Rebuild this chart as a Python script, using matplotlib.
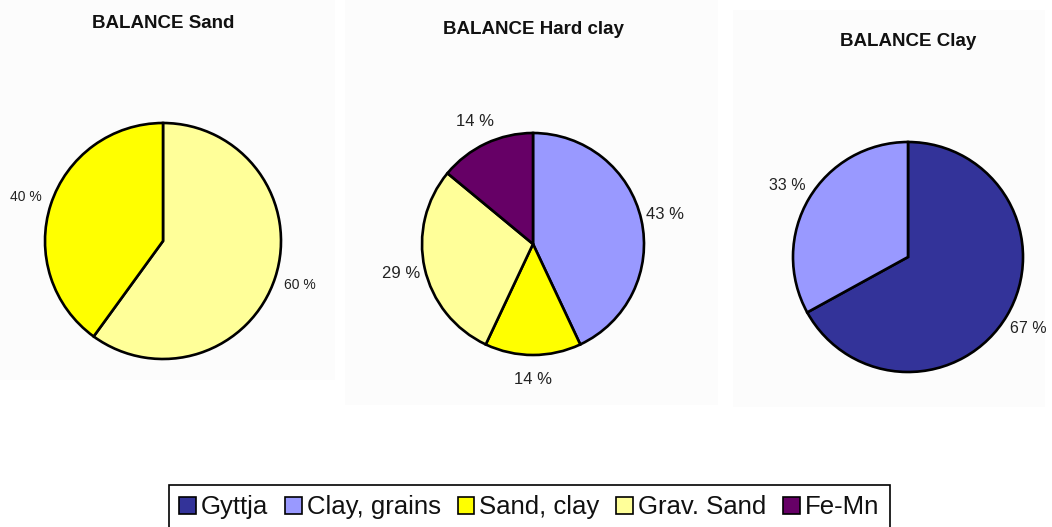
import matplotlib
matplotlib.use("Agg")
import matplotlib.pyplot as plt
from matplotlib.patches import Patch, Rectangle

plt.rcParams['font.family'] = ['Liberation Sans', 'DejaVu Sans']

# legend categories and colours
categories = ['Gyttja', 'Clay, grains', 'Sand, clay', 'Grav. Sand', 'Fe-Mn']
colors = {'Gyttja': '#333399', 'Clay, grains': '#9999ff', 'Sand, clay': '#ffff00',
          'Grav. Sand': '#ffff99', 'Fe-Mn': '#660066'}

# pie data (clockwise from 12 o'clock)
sand_labels = ['Grav. Sand', 'Sand, clay']
sand_values = [60, 40]
hardclay_labels = ['Clay, grains', 'Sand, clay', 'Grav. Sand', 'Fe-Mn']
hardclay_values = [43, 14, 29, 14]
clay_labels = ['Gyttja', 'Clay, grains']
clay_values = [67, 33]

W, H = 1052, 527
fig = plt.figure(figsize=(W / 100, H / 100), dpi=100)

# faint panel backgrounds (pixel boxes: x0, y0, x1, y1)
for x0, y0, x1, y1 in [(0, 0, 335, 380), (345, 0, 718, 405), (733, 10, 1045, 407)]:
    fig.patches.append(Rectangle((x0 / W, 1 - y1 / H), (x1 - x0) / W, (y1 - y0) / H,
                                 transform=fig.transFigure, facecolor='#fcfcfc',
                                 edgecolor='none', zorder=-1))


def draw_pie(title, labels, values, cx, cy, r, ty, fs):
    s = 3 * r
    ax = fig.add_axes([(cx - s / 2) / W, 1 - (cy + s / 2) / H, s / W, s / H])
    ax.pie(values, colors=[colors[l] for l in labels], startangle=90, counterclock=False,
           autopct=lambda p: f'{p:.0f} %', pctdistance=1.22,
           wedgeprops=dict(edgecolor='black', linewidth=1.9),
           textprops=dict(fontsize=fs, color='#222222'))
    ax.set_xlim(-1.5, 1.5)
    ax.set_ylim(-1.5, 1.5)
    ax.axis('off')
    fig.text(cx / W, 1 - ty / H, title, ha='center', va='center',
             fontsize=13.5, fontweight='bold', color='#111111')


draw_pie('BALANCE Sand', sand_labels, sand_values, 163, 241, 118, 24, 10)
draw_pie('BALANCE Hard clay', hardclay_labels, hardclay_values, 533, 244, 111, 30, 12)
draw_pie('BALANCE Clay', clay_labels, clay_values, 908, 257, 115, 42, 11.5)

handles = [Patch(facecolor=colors[c], edgecolor='black', linewidth=1.2, label=c)
           for c in categories]
leg = fig.legend(handles=handles, loc='upper left', bbox_to_anchor=(169 / W, 1 - 485 / H),
                 ncol=5, fontsize=18.5, frameon=True, fancybox=False, framealpha=1,
                 edgecolor='black', handlelength=0.65, handleheight=0.65,
                 handletextpad=0.2, columnspacing=0.65, borderpad=0.4, borderaxespad=0)
leg.get_frame().set_linewidth(1.2)
for t in leg.get_texts():
    t.set_color('#111111')

fig.savefig('out.png', dpi=100, facecolor='white')
